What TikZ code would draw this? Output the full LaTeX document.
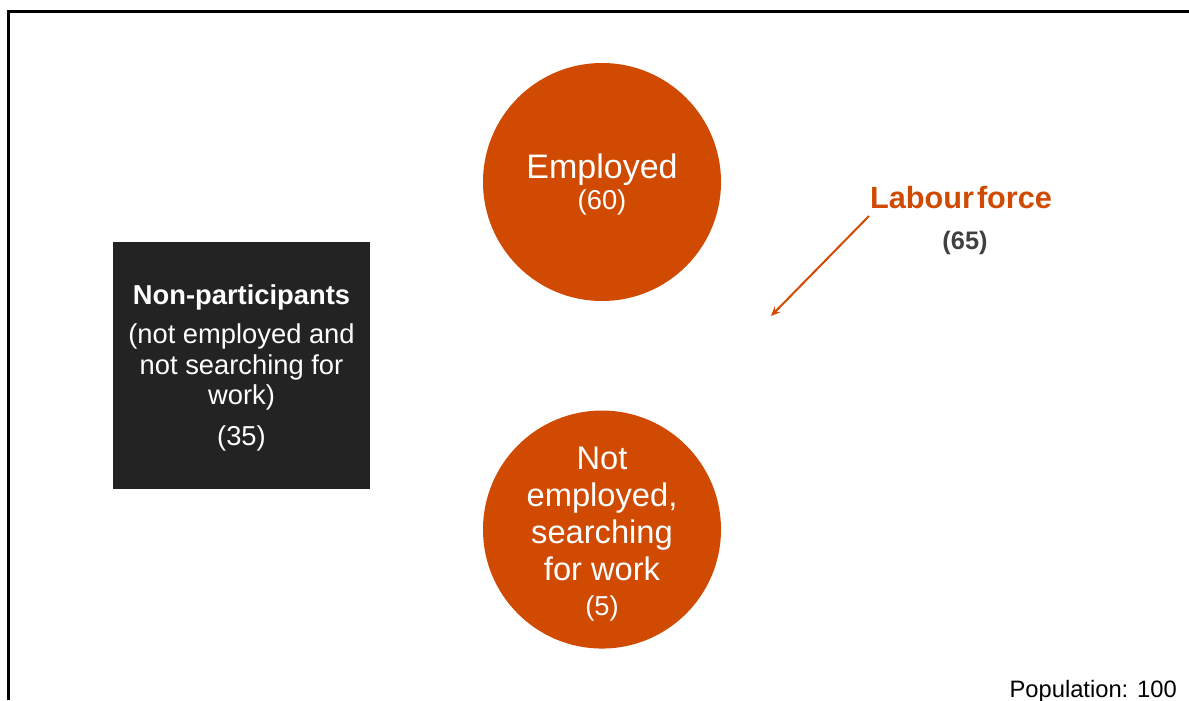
\documentclass[tikz,border=0pt]{standalone}
\usepackage{fontspec}
\setmainfont{Liberation Sans}
\usetikzlibrary{positioning,arrows.meta}
\definecolor{labourorange}{HTML}{D04A02}
\definecolor{outsidegrey}{HTML}{232323}
\definecolor{countgrey}{HTML}{404040}

\newcommand{\countsize}{\fontsize{20.5}{22}\selectfont}

\begin{document}
\begin{tikzpicture}[
    x=0.75pt, y=-0.75pt,
    group/.style={circle, fill=labourorange, text=white, minimum size=178.5pt,
        inner sep=0pt, align=center},
    outside/.style={rectangle, fill=outsidegrey, text=white, minimum width=192.75pt,
        minimum height=185.25pt, inner sep=0pt, align=center},
    pointer/.style={draw=labourorange, line width=1.5pt, -{Stealth[length=7pt,width=6pt]}},
    frame/.style={draw=black, line width=2pt}
]
\useasboundingbox (0,0) rectangle (1189,700);
\draw[frame] (8.5,700) |- (1189,11.5);

\node (Employed) [group, font=\fontsize{25.5}{24}\selectfont] at (602,182)
  {\rule{0pt}{22pt}Employed\\[-1pt] \countsize (60)};
\node (Searching) [group, below=81.75pt of Employed, font=\fontsize{24.5}{27.75}\selectfont]
  {\rule{0pt}{23.5pt}Not\\ employed,\\ searching\\ for work\\[-1.5pt] \countsize (5)};

\node (NonPart) [outside, font=\fontsize{20.5}{23}\selectfont] at (241.5,365.5)
  {\rule{0pt}{18pt}\bfseries Non-participants\\[6.5pt]
   (not employed and\\ not searching for\\ work)\\[7.5pt]
   (35)};

\node (LabourForce) [text=labourorange, font=\bfseries\fontsize{23}{26}\selectfont]
  at (961,198) {Labour\hspace{0.1em}force};
\node (LabourCount) [text=countgrey, font=\bfseries\fontsize{19}{22}\selectfont]
  at (965,243) {(65)};

% arrow from the label down towards the two circles
\coordinate (tail) at (869,216);
\coordinate (tip) at (771,316);
\draw[pointer] (tail) -- (tip);

\node (Population) [anchor=base east, inner sep=0pt, font=\fontsize{17.8}{20}\selectfont]
  at (1177,697) {Population: 100};
\end{tikzpicture}
\end{document}
